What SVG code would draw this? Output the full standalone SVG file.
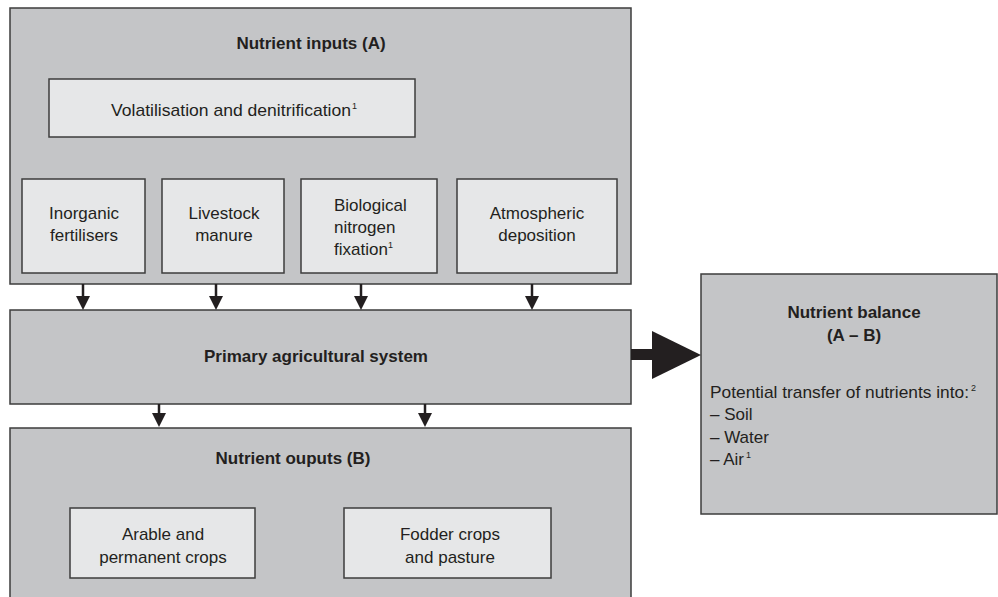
<svg xmlns="http://www.w3.org/2000/svg" width="998" height="597" viewBox="0 0 998 597">
<style>
.outer{fill:#c4c5c7;stroke:#3d3d3d;stroke-width:1.5}
.inner{fill:#e6e7e8;stroke:#3d3d3d;stroke-width:1.5}
text{font-family:"Liberation Sans",Arial,sans-serif;font-size:17px;fill:#231f20}
.c{text-anchor:middle}
.b{font-weight:bold}
.sup{font-size:9px}
.shaft{stroke:#231f20;stroke-width:2.5;fill:none}
.head{fill:#231f20}
</style>
<rect width="998" height="597" fill="#ffffff"/>
<g id="nutrient-inputs">
<rect class="outer" x="10" y="8" width="621" height="276"/>
<text class="b c" x="311" y="49">Nutrient inputs (A)</text>
</g>
<g id="volatilisation">
<rect class="inner" x="49" y="79" width="366" height="58"/>
<text x="111" y="116" textLength="240" lengthAdjust="spacingAndGlyphs">Volatilisation and denitrification</text>
<text class="sup" x="352" y="109">1</text>
</g>
<g id="inorganic-fertilisers">
<rect class="inner" x="22" y="179" width="123" height="94"/>
<text class="c" x="84" y="219">Inorganic</text>
<text class="c" x="84" y="241">fertilisers</text>
</g>
<g id="livestock-manure">
<rect class="inner" x="162" y="179" width="122" height="94"/>
<text class="c" x="224" y="219">Livestock</text>
<text class="c" x="224" y="241">manure</text>
</g>
<g id="biological-fixation">
<rect class="inner" x="301" y="179" width="136" height="94"/>
<text x="334" y="211">Biological</text>
<text x="334" y="233">nitrogen</text>
<text x="334" y="255">fixation</text>
<text class="sup" x="388" y="248">1</text>
</g>
<g id="atmospheric-deposition">
<rect class="inner" x="457" y="179" width="160" height="94"/>
<text class="c" x="537" y="219">Atmospheric</text>
<text class="c" x="537" y="241">deposition</text>
</g>
<g id="primary-system">
<rect class="outer" x="10" y="310" width="621" height="94"/>
<text class="b c" x="316" y="362">Primary agricultural system</text>
</g>
<g id="nutrient-outputs">
<rect class="outer" x="10" y="428" width="621" height="175"/>
<text class="b c" x="293" y="464">Nutrient ouputs (B)</text>
</g>
<g id="arable-crops">
<rect class="inner" x="70" y="508" width="185" height="70"/>
<text class="c" x="163" y="540">Arable and</text>
<text class="c" x="163" y="563">permanent crops</text>
</g>
<g id="fodder-crops">
<rect class="inner" x="344" y="508" width="207" height="70"/>
<text class="c" x="450" y="540">Fodder crops</text>
<text class="c" x="450" y="563">and pasture</text>
</g>
<g id="nutrient-balance">
<rect class="outer" x="701" y="274" width="296" height="240"/>
<text class="b c" x="854" y="318">Nutrient balance</text>
<text class="b c" x="854" y="341">(A – B)</text>
<text x="710" y="398" textLength="259" lengthAdjust="spacingAndGlyphs">Potential transfer of nutrients into:</text>
<text class="sup" x="971" y="391">2</text>
<text x="710" y="420">– Soil</text>
<text x="710" y="443">– Water</text>
<text x="710" y="465">– Air</text>
<text class="sup" x="746" y="458">1</text>
</g>
<g id="connectors">
<line class="shaft" x1="83" y1="284" x2="83" y2="297"/>
<polygon class="head" points="76,296 90,296 83,310"/>
<line class="shaft" x1="216" y1="284" x2="216" y2="297"/>
<polygon class="head" points="209,296 223,296 216,310"/>
<line class="shaft" x1="361" y1="284" x2="361" y2="297"/>
<polygon class="head" points="354,296 368,296 361,310"/>
<line class="shaft" x1="532" y1="284" x2="532" y2="297"/>
<polygon class="head" points="525,296 539,296 532,310"/>
<line class="shaft" x1="159" y1="404" x2="159" y2="414"/>
<polygon class="head" points="152,413 166,413 159,427"/>
<line class="shaft" x1="425" y1="404" x2="425" y2="414"/>
<polygon class="head" points="418,413 432,413 425,427"/>
<rect class="head" x="631" y="349" width="22" height="11"/>
<polygon class="head" points="652,331 701,355 652,379"/>
</g>
</svg>
